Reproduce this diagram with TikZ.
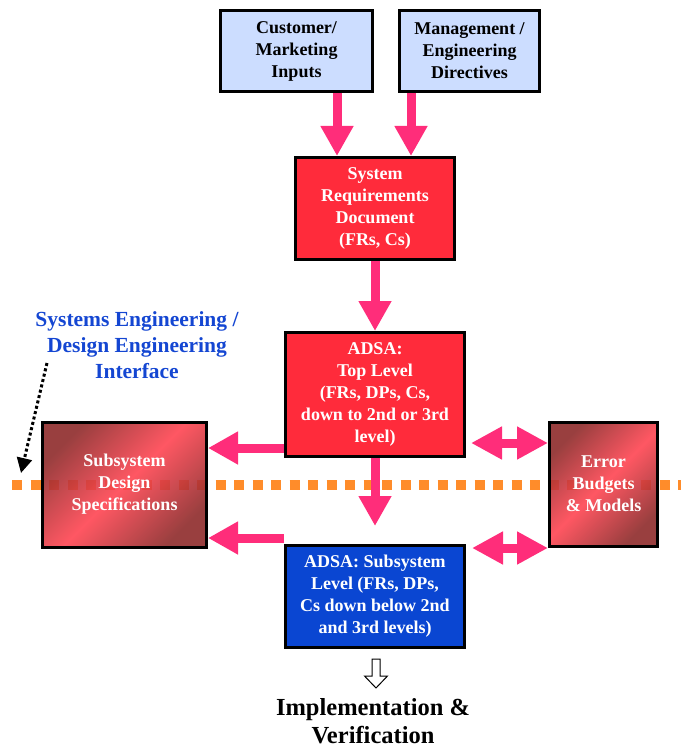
\documentclass[tikz,border=0pt]{standalone}
\usepackage{fontspec}
\setmainfont{Liberation Serif}
\usetikzlibrary{arrows.meta,calc}

\definecolor{inputblue}{HTML}{CCDDFF}
\definecolor{reqred}{HTML}{FF2B3B}
\definecolor{flowpink}{HTML}{FF2D7A}
\definecolor{levelblue}{HTML}{0A46D2}
\definecolor{labelblue}{HTML}{1446D2}
\definecolor{ifaceorange}{HTML}{FF8C2A}
\definecolor{darkred}{HTML}{8E2A2A}
\definecolor{brightred}{HTML}{FF4552}

\tikzset{
  box/.style={draw=black, line width=3pt, inner sep=0pt, align=center,
    font=\bfseries\fontsize{18}{22}\selectfont},
  inputbox/.style={box, fill=inputblue, text=black},
  redbox/.style={box, fill=reqred, text=white},
  bluebox/.style={box, fill=levelblue, text=white},
  shadedbox/.style={box, text=white, fill opacity=0.9, text opacity=1,
    top color=darkred, bottom color=darkred, middle color=brightred,
    shading angle=45},
  flow/.style={draw=flowpink, line width=9pt,
    -{Triangle[width=31pt,length=30pt,fill=flowpink]}},
  twoway/.style={draw=flowpink, line width=9pt,
    {Triangle[width=31pt,length=31pt,fill=flowpink]}-{Triangle[width=31pt,length=31pt,fill=flowpink]}},
}

\begin{document}
\begin{tikzpicture}[x=1pt,y=-1pt]
\useasboundingbox (0,0) rectangle (680,749);

% interface line between systems and design engineering
\draw[ifaceorange, line width=10pt, dash pattern=on 10pt off 8.5pt] (12,485) -- (690,485);

% boxes
\node[inputbox, minimum width=152pt, minimum height=81pt] (cust) at (296.5,51)
  {Customer/\\Marketing\\Inputs};
\node[inputbox, minimum width=140pt, minimum height=81pt] (mgmt) at (469.5,51)
  {Management /\\Engineering\\Directives};
\node[redbox, minimum width=159pt, minimum height=102pt] (srd) at (375,208.5)
  {System\\Requirements\\Document\\ (FRs, Cs)};
\node[redbox, minimum width=179pt, minimum height=124pt] (top) at (375,394.5)
  {ADSA:\\Top Level\\(FRs, DPs, Cs,\\down to 2nd or 3rd\\level)};
\node[shadedbox, minimum width=164pt, minimum height=125pt] (sds) at (124.5,484.5)
  {Subsystem\\Design\\Specifications};
\node[shadedbox, minimum width=108pt, minimum height=124pt] (err) at (603.5,484)
  {Error\\Budgets\\\& Models};
\node[bluebox, minimum width=179pt, minimum height=102pt] (sub) at (375,596.5)
  {ADSA: Subsystem\\Level (FRs, DPs,\\Cs down below 2nd\\and 3rd levels)};

% interface label
\node[text=labelblue, align=center, font=\bfseries\fontsize{21.5}{26}\selectfont]
  (iface) at (137,345) {Systems Engineering /\\Design Engineering\\Interface};
\coordinate (dotstart) at (47,363);
\coordinate (dotend) at (21,473);
\draw[black, line width=3pt, dash pattern=on 3pt off 2.5pt,
  -{Triangle[width=15pt,length=15pt]}] (dotstart) -- (dotend);

% downward flow
\draw[flow] ([xshift=40.5pt]cust.south) -- ([xshift=40.5pt]cust.south |- srd.north);
\draw[flow] ([xshift=-58.5pt]mgmt.south) -- ([xshift=-58.5pt]mgmt.south |- srd.north);
\draw[flow] (srd.south) -- (top.north);
\draw[flow] (top.south) -- ([yshift=18pt]sub.north);

% flow to subsystem specifications
\draw[flow] ([yshift=-53.5pt]top.west) -- ([yshift=-53.5pt]top.west -| sds.east);
\draw[flow] ([yshift=6pt]sub.north west) -- ([yshift=6pt]sub.north west -| sds.east);

% exchange with error budgets
\draw[twoway] ([xshift=5pt,yshift=-48.5pt]top.east) -- ([yshift=-48.5pt]top.east -| err.west);
\draw[twoway] ([xshift=6pt,yshift=48.5pt]sub.east) -- ([yshift=48.5pt]sub.east -| err.west);

% hollow arrow to implementation
\node[font=\bfseries\fontsize{24.5}{28.5}\selectfont, align=center] (impl) at (373,721)
  {Implementation \&\\Verification};
\coordinate (ha) at ($(sub.south)+(1,10)$);
\draw[black, line width=1pt, fill=white]
  ($(ha)+(-4,0)$) -- ($(ha)+(4,0)$) -- ($(ha)+(4,17)$) -- ($(ha)+(11.5,17)$)
  -- ($(ha)+(0,29)$) -- ($(ha)+(-11.5,17)$) -- ($(ha)+(-4,17)$) -- cycle;
\end{tikzpicture}
\end{document}
